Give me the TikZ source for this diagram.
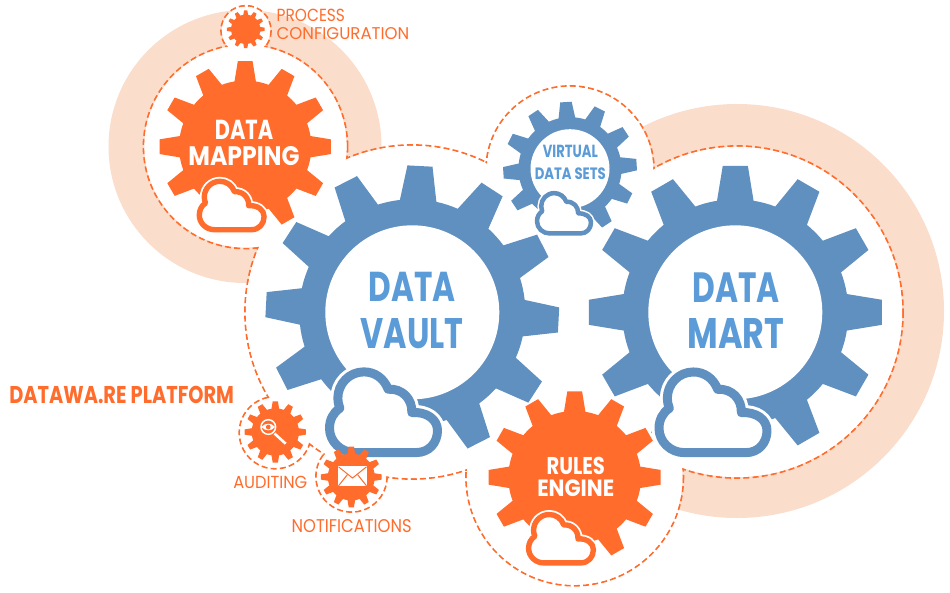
\documentclass[tikz,border=0pt]{standalone}
\usepackage{graphicx}
\usepackage{fontspec}
\setmainfont{Poppins}
\definecolor{orangeA}{HTML}{FF6C2C}
\definecolor{blueA}{HTML}{6090C0}
\definecolor{blueT}{HTML}{5A9BD8}
\definecolor{creamA}{HTML}{FADDCB}
\tikzset{
  ringfill/.style={fill=creamA},
  dashring/.style={draw=orangeA,line width=1.8pt,dash pattern=on 6pt off 3.2pt},
  blobfill/.style={fill=white},
  labelnode/.style={inner sep=0pt,outer sep=0pt},
  bluelabel/.style={labelnode,font=\bfseries,text=blueT},
  whitelabel/.style={labelnode,font=\bfseries,text=white},
  smalllabel/.style={labelnode,text=orangeA},
}
% gear: cx, cy, outer radius, rotation, colour
\newcommand\gearshape[5]{%
  \begin{scope}[shift={(#1,#2)}]
    \pgfmathsetmacro\rr{#3*0.769}
    \fill[#5] ({#4-4.9}:#3)
    \foreach \k in {0,...,11}{
      -- ({#4+\k*30-4.9}:#3) -- ({#4+\k*30+4.9}:#3)
      -- ({#4+\k*30+9.3}:\rr) -- ({#4+\k*30+12.2}:\rr) -- ({#4+\k*30+15}:\rr)
      -- ({#4+\k*30+17.8}:\rr) -- ({#4+\k*30+20.7}:\rr)
    } -- cycle;
  \end{scope}}
% cloud: cx, cy, scale (1 = 117px wide), colour
\newcommand\cloudshape[4]{%
  \begin{scope}[shift={(#1,#2)},scale=#3/3,shift={(-431,-847)}]
    \pgfmathsetmacro\lwa{9*#3}
    \pgfmathsetmacro\lwb{9*#3+6*#3}
    \def\cloudpath{(345,968) -- (530,968) .. controls (568,968) and (593,938) .. (593,902)
      .. controls (593,868) and (560,845) .. (516,848)
      .. controls (518,808) and (488,775) .. (445,778)
      .. controls (432,745) and (405,726) .. (372,726)
      .. controls (328,726) and (294,762) .. (294,805)
      .. controls (294,815) and (296,825) .. (300,835)
      .. controls (280,848) and (269,870) .. (269,895)
      .. controls (269,935) and (303,968) .. (345,968) -- cycle}
    \draw[white,line width=\lwb pt,line join=round] \cloudpath;
    \draw[#4,fill=white,line width=\lwa pt,line join=round] \cloudpath;
  \end{scope}}
\newcommand\twolines[8]{\vbox{\offinterlineskip\halign{#1##\hfil\cr
  \resizebox{#2}{#3}{#4}\cr\noalign{\vskip #5}\resizebox{#6}{#7}{#8}\cr}}}
\begin{document}
\begin{tikzpicture}[x=1pt,y=-1pt]
\useasboundingbox (0,0) rectangle (950,592);
% cream rings
\fill[ringfill] (245,146.5) circle[radius=136.5];
\fill[ringfill] (737,311) circle[radius=207];
% dashed blob
\foreach \cx/\cy/\r in {737/312/166,412/312/167,245.5/146.5/102,570/170/84,574.7/477/108.7,246/30.7/25,275.3/432.7/36,351.5/476.5/35.5}{
  \draw[dashring] (\cx,\cy) circle[radius=\r];
}
\foreach \cx/\cy/\r in {737/312/166,412/312/167,245.5/146.5/102,570/170/84,574.7/477/108.7,246/30.7/25,275.3/432.7/36,351.5/476.5/35.5}{
  \fill[blobfill] (\cx,\cy) circle[radius={\r-0.9}];
}
\fill[blobfill] (558,235) rectangle (595,385);
% big gears
\gearshape{412.3}{312.3}{147}{3}{blueA}
\fill[white] (412.3,312.3) circle[radius=87];
\gearshape{735.3}{312.3}{147}{0}{blueA}
\fill[white] (735.3,312.3) circle[radius=87];
\gearshape{570}{168.7}{67}{-3.5}{blueA}
\fill[white] (570,168.7) circle[radius=39.5];
\gearshape{245.2}{146.7}{86}{0}{orangeA}
\gearshape{574.7}{477.3}{86.3}{0}{orangeA}
% clouds
\cloudshape{383.5}{412.2}{1}{blueA}
\cloudshape{713}{412.3}{1}{blueA}
\cloudshape{231.7}{205.5}{0.6}{orangeA}
\cloudshape{564}{213.3}{0.5}{blueA}
\cloudshape{561}{538.7}{0.6}{orangeA}
% small gears
\gearshape{245.7}{29.3}{19}{0}{orangeA}
\gearshape{275.3}{432}{30.7}{0}{orangeA}
\gearshape{351.3}{477}{30.5}{0}{orangeA}
% magnifier icon
\draw[white,line width=1.5pt] (268.3,427) circle[radius=7.3];
\draw[white,line width=2.6pt] (274.5,433.5) -- (285.7,443.7);
\fill[white] (261.5,427) .. controls (265,422.6) and (271.5,422.6) .. (275,427) .. controls (271.5,431.4) and (265,431.4) .. (261.5,427) -- cycle;
\fill[orangeA] (268.3,427) circle[radius=2.4];
% envelope icon
\fill[white] (338,466.3) rectangle (367,486.3);
\draw[orangeA,line width=1pt] (338.5,466.8) -- (352.5,478) -- (366.5,466.8);
\draw[orangeA,line width=1pt] (338.5,485.8) -- (347.5,474.5) (366.5,485.8) -- (357.5,474.5);
% labels
\node[bluelabel] (vault) at (412,310.5) {\twolines{\hfil}{87pt}{29.3pt}{DATA}{16.3pt}{103pt}{30pt}{VAULT}};
\node[bluelabel] (mart) at (736,310.3) {\twolines{\hfil}{87.3pt}{29.7pt}{DATA}{16.3pt}{96.7pt}{30pt}{MART}};
\node[whitelabel] (mapping) at (244,143.2) {\twolines{\hfil}{58.3pt}{19.3pt}{DATA}{6.7pt}{111pt}{19pt}{MAPPING}};
\node[bluelabel] (virtual) at (570.3,162) {\twolines{\hfil}{55pt}{12.3pt}{VIRTUAL}{10pt}{71pt}{11.7pt}{DATA SETS}};
\node[whitelabel] (rules) at (575.8,477.2) {\twolines{\hfil}{58.3pt}{17.3pt}{RULES}{5pt}{77pt}{16.7pt}{ENGINE}};
\node[smalllabel,anchor=west] (process) at (276.7,24.3) {\twolines{}{68.3pt}{12.4pt}{PROCESS}{5.6pt}{132.6pt}{12pt}{CONFIGURATION}};
\node[labelnode,font=\bfseries,text=orangeA] (platform) at (121.65,395.35) {\resizebox{224.7pt}{17.3pt}{DATAWA.RE PLATFORM}};
\node[smalllabel] (auditing) at (270.3,482.85) {\resizebox{74pt}{12.3pt}{AUDITING}};
\node[smalllabel] (notifications) at (351.7,525.8) {\resizebox{120pt}{13pt}{NOTIFICATIONS}};
\end{tikzpicture}
\end{document}
